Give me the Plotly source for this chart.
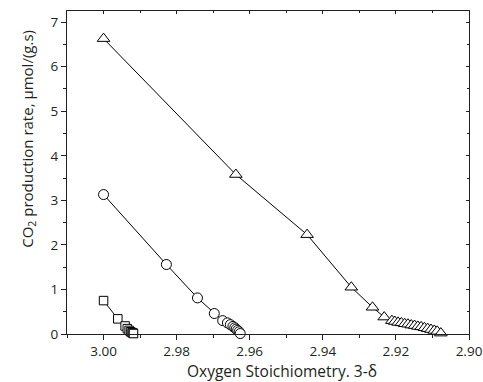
import plotly.graph_objects as go

# Square series
sq_x = [3.000, 2.9961, 2.9941, 2.9935, 2.9930, 2.9926, 2.9922, 2.9919, 2.9918]
sq_y = [0.75, 0.34, 0.18, 0.12, 0.08, 0.05, 0.03, 0.02, 0.01]

# Circle series
ci_x = [3.000, 2.9828, 2.9743, 2.9697, 2.9674, 2.9661, 2.9653, 2.9646, 2.9641,
        2.9637, 2.9633, 2.9629, 2.9626]
ci_y = [3.13, 1.56, 0.81, 0.46, 0.30, 0.25, 0.21, 0.17, 0.14, 0.11, 0.08, 0.05, 0.01]

# Triangle series
tr_x = [3.000, 2.9638, 2.9443, 2.9322, 2.9264, 2.9232, 2.9211,
        2.9203, 2.9194, 2.9185, 2.9176, 2.9167, 2.9158, 2.9149, 2.9140,
        2.9131, 2.9122, 2.9113, 2.9104, 2.9095, 2.9087, 2.9077]
tr_y = [6.63, 3.58, 2.23, 1.05, 0.60, 0.38, 0.30,
        0.28, 0.26, 0.25, 0.23, 0.22, 0.20, 0.19, 0.17,
        0.16, 0.14, 0.12, 0.10, 0.08, 0.06, 0.02]

x_tickvals = [3.00, 2.98, 2.96, 2.94, 2.92, 2.90]
x_ticktext = ["3.00", "2.98", "2.96", "2.94", "2.92", "2.90"]
y_tickvals = [0, 1, 2, 3, 4, 5, 6, 7]

x_title = "Oxygen Stoichiometry. 3-δ"
y_title = "CO<sub>2</sub> production rate, μmol/(g.s)"

FONT = "Open Sans"
INK = "#231f20"

def series(x, y, symbol, size):
    return go.Scatter(
        x=x, y=y, mode="lines+markers",
        line=dict(color="black", width=1),
        marker=dict(symbol=symbol, size=size, color="white",
                    line=dict(color="black", width=1)),
        showlegend=False, cliponaxis=False,
    )

fig = go.Figure()
fig.add_trace(series(tr_x, tr_y, "triangle-up", 11))
fig.add_trace(series(ci_x, ci_y, "circle", 10))
fig.add_trace(series(sq_x, sq_y, "square", 8.5))
# helper trace so the mirrored (top/right) axes are drawn
fig.add_trace(go.Scatter(x=[], y=[], xaxis="x2", yaxis="y2", showlegend=False))

xr = [3.01, 2.90]
yr = [0, 7.25]

common = dict(showgrid=False, zeroline=False, automargin=False,
              showline=True, linecolor=INK, linewidth=1.3)

fig.update_layout(
    width=483, height=382,
    margin=dict(l=67, r=14, t=11, b=48, autoexpand=False),
    paper_bgcolor="white", plot_bgcolor="white",
    font=dict(family=FONT, size=13, color=INK),
    xaxis=dict(
        range=xr, tickvals=x_tickvals, ticktext=x_ticktext,
        ticks="outside", ticklen=5, tickwidth=1, tickcolor=INK,
        minor=dict(dtick=0.01, ticks="outside", ticklen=3, tickcolor=INK, showgrid=False),
        tickfont=dict(size=13.5, color=INK), **common,
    ),
    yaxis=dict(
        range=yr, tickvals=y_tickvals,
        ticks="outside", ticklen=5, tickwidth=1, tickcolor=INK,
        minor=dict(dtick=0.5, ticks="outside", ticklen=3, tickcolor=INK, showgrid=False),
        tickfont=dict(size=13.5, color=INK), **common,
    ),
    xaxis2=dict(
        overlaying="x", side="top", anchor="y", range=xr,
        tickvals=x_tickvals, showticklabels=False,
        ticks="inside", ticklen=3, tickcolor=INK,
        minor=dict(dtick=0.01, ticks="inside", ticklen=2, tickcolor=INK, showgrid=False),
        **common,
    ),
    yaxis2=dict(
        overlaying="y", side="right", anchor="x", range=yr,
        tickvals=y_tickvals, showticklabels=False,
        ticks="inside", ticklen=3, tickcolor=INK,
        minor=dict(dtick=0.5, ticks="inside", ticklen=2, tickcolor=INK, showgrid=False),
        **common,
    ),
    annotations=[
        dict(text=x_title, xref="paper", yref="paper", x=0.534, y=-0.116,
             xanchor="center", yanchor="middle", showarrow=False,
             font=dict(family=FONT, size=15.5, color=INK)),
        dict(text=y_title, xref="paper", yref="paper", x=-0.099, y=0.605,
             xanchor="center", yanchor="middle", showarrow=False, textangle=-90,
             font=dict(family=FONT, size=15, color=INK)),
    ],
)

fig.write_html(
    "out.html",
    config={"displayModeBar": False},
    post_script="document.body.style.margin='0';document.body.style.padding='0';",
)
